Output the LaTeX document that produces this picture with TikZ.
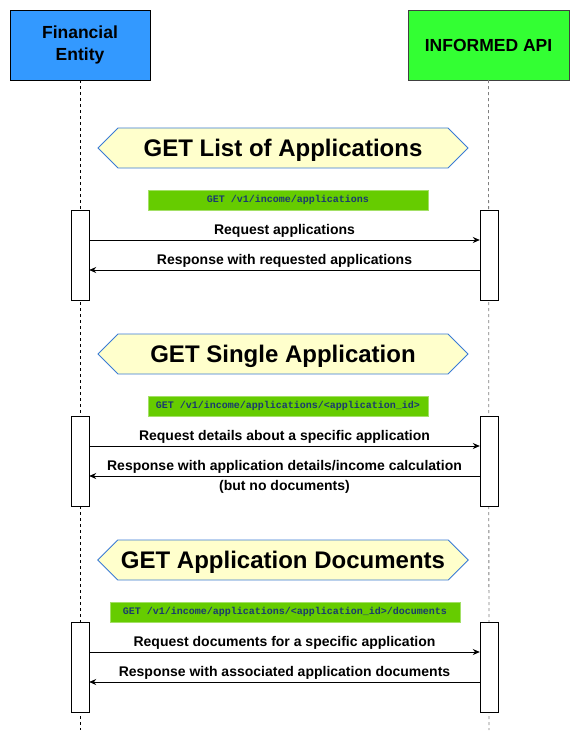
\documentclass[tikz,border=0pt]{standalone}
\usepackage{fontspec}
\setmainfont{Liberation Sans}
\setmonofont{Liberation Mono}
\usetikzlibrary{arrows.meta,shapes.symbols}
\definecolor{lanebl}{HTML}{3399FF}
\definecolor{lanegr}{HTML}{33FF33}
\definecolor{bannery}{HTML}{FFFFCC}
\definecolor{bannerb}{HTML}{3A7BD5}
\definecolor{urlgr}{HTML}{66CC00}
\definecolor{urltx}{HTML}{1A3A6E}
\begin{document}
\begin{tikzpicture}[x=1pt,y=-1pt,
  lane/.style={draw,minimum width=140,minimum height=70,align=center,font=\bfseries\fontsize{17.5}{22}\selectfont},
  life/.style={dashed,line width=0.8pt},
  banner/.style={signal,signal to=west and east,signal pointer angle=90,draw=bannerb,line width=0.9pt,fill=bannery,minimum width=370,minimum height=40,text depth=0pt,font=\bfseries\fontsize{24}{28}\selectfont},
  url/.style={fill=urlgr,draw=urlgr!60!white,minimum height=20,inner sep=0pt,text=urltx,font=\ttfamily\bfseries\fontsize{10}{12}\selectfont},
  act/.style={draw,fill=white,minimum width=18,minimum height=90,inner sep=0pt},
  msg/.style={-{Stealth[length=7,width=6]},line width=0.8pt},
  lbl/.style={font=\bfseries\fontsize{14}{16}\selectfont,inner sep=2pt}]
        \useasboundingbox (0,0) rectangle (580,741);
        % lanes
        \node[lane,fill=lanebl] (fe) at (80,45) {Financial\\Entity};
        \node[lane,fill=lanegr,draw=darkgray,minimum width=161,text depth=0pt] (api) at (488.5,45) {INFORMED API};
        \coordinate (feend) at (80,730);
        \coordinate (apiend) at (489,730);
        \draw[life] (fe.south) -- (feend);
        \draw[life,gray] (api.south) -- (apiend);
        % list of applications
        \node[banner] (b1) at (283,148) {GET List of Applications};
        \node[url,minimum width=280] (u1) at (288,200) {GET /v1/income/applications};
        \node[act] (a1l) at (80,255) {};
        \node[act] (a1r) at (489,255) {};
        \draw[msg] ([yshift=15]a1l.east) -- node[lbl,above] {Request applications} ([yshift=15]a1r.west);
        \draw[msg] ([yshift=-15]a1r.west) -- node[lbl,above] {Response with requested applications} ([yshift=-15]a1l.east);
        % single application
        \node[banner] (b2) at (283,354) {GET Single Application};
        \node[url,minimum width=280] (u2) at (288,406) {GET /v1/income/applications/<application\_id>};
        \node[act] (a2l) at (80,461) {};
        \node[act] (a2r) at (489,461) {};
        \draw[msg] ([yshift=15]a2l.east) -- node[lbl,above] {Request details about a specific application} ([yshift=15]a2r.west);
        \draw[msg] ([yshift=-15]a2r.west) -- node[lbl,above] {Response with application details/income calculation}
          node[lbl,below,inner sep=4pt] {(but no documents)} ([yshift=-15]a2l.east);
        % application documents
        \node[banner] (b3) at (283,560) {GET Application Documents};
        \node[url,minimum width=350] (u3) at (285,612) {GET /v1/income/applications/<application\_id>/documents};
        \node[act] (a3l) at (80,667) {};
        \node[act] (a3r) at (489,667) {};
        \draw[msg] ([yshift=15]a3l.east) -- node[lbl,above] {Request documents for a specific application} ([yshift=15]a3r.west);
        \draw[msg] ([yshift=-15]a3r.west) -- node[lbl,above] {Response with associated application documents} ([yshift=-15]a3l.east);
      \end{tikzpicture}
\end{document}
